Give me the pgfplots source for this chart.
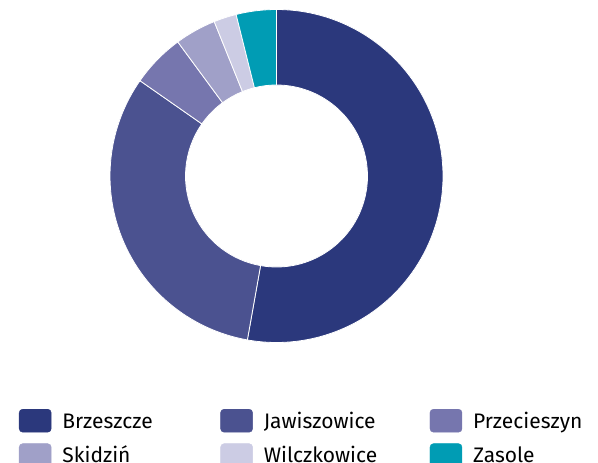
\documentclass[border=0pt]{standalone}
\usepackage{pgfplots}
\pgfplotsset{compat=1.18}
\usepackage{pgfplotstable}
\usepackage{fontspec}
\setmainfont{Fira Sans}
\definecolor{c0}{HTML}{2B387C}
\definecolor{c1}{HTML}{4B5290}
\definecolor{c2}{HTML}{7676AE}
\definecolor{c3}{HTML}{A0A0C8}
\definecolor{c4}{HTML}{CCCCE4}
\definecolor{c5}{HTML}{009CB4}
\pgfplotstableread{
name value
Brzeszcze 52.8
Jawiszowice 31.9
Przecieszyn 5.2
Skidzin 4.0
Wilczkowice 2.2
Zasole 3.9
}\datatable
\pgfplotsset{sq/.style={legend image code/.code={\fill[#1, rounded corners=3.5pt] (0pt,-9pt) rectangle (32pt,14pt);}}}
\begin{document}
\begin{tikzpicture}
\begin{axis}[name=ax, x=1pt, y=1pt, xmin=0, xmax=598, ymin=-463, ymax=0,
  hide axis, clip=false, scale only axis, disabledatascaling,
  legend columns=3, legend cell align=left,
  legend style={at={(axis cs:19,-409)}, anchor=north west, draw=none, fill=none,
    inner sep=0pt, outer sep=0pt, row sep=11pt,
    font=\fontsize{21}{25}\selectfont,
    nodes={inner sep=0pt, text height=14.5pt, text depth=4pt},
    /tikz/every odd column/.append style={column sep=11pt},
    /tikz/every even column/.append style={column sep=0pt}},
]
\def\cum{0}
\pgfplotsforeachungrouped \i in {0,...,5}{%
  \pgfplotstablegetelem{\i}{value}\of\datatable
  \let\val\pgfplotsretval
  \pgfmathsetmacro{\aa}{90-3.6*\cum}%
  \pgfmathsetmacro{\bb}{90-3.6*(\cum+\val)}%
  \pgfmathsetmacro{\cum}{\cum+\val}%
  \edef\temp{\noexpand\fill[c\i, draw=white, line width=0.8pt]
    (axis cs:{276.5+166.5*cos(\aa)},{-176+166.5*sin(\aa)})
    arc[start angle=\aa, end angle=\bb, radius=166.5pt]
    -- (axis cs:{276.5+91*cos(\bb)},{-176+91*sin(\bb)})
    arc[start angle=\bb, end angle=\aa, radius=91pt] -- cycle;}%
  \temp
}
\addlegendimage{sq=c0}
\addlegendentry[text width=158pt]{Brzeszcze}
\addlegendimage{sq=c1}
\addlegendentry[text width=166pt]{Jawiszowice}
\addlegendimage{sq=c2}
\addlegendentry[text width=120pt]{Przecieszyn}
\addlegendimage{sq=c3}
\addlegendentry[text width=158pt]{Skidziń}
\addlegendimage{sq=c4}
\addlegendentry[text width=166pt]{Wilczkowice}
\addlegendimage{sq=c5}
\addlegendentry[text width=120pt]{Zasole}
\end{axis}
\pgfresetboundingbox
\useasboundingbox (ax.south west) rectangle (ax.north east);
\end{tikzpicture}
\end{document}
